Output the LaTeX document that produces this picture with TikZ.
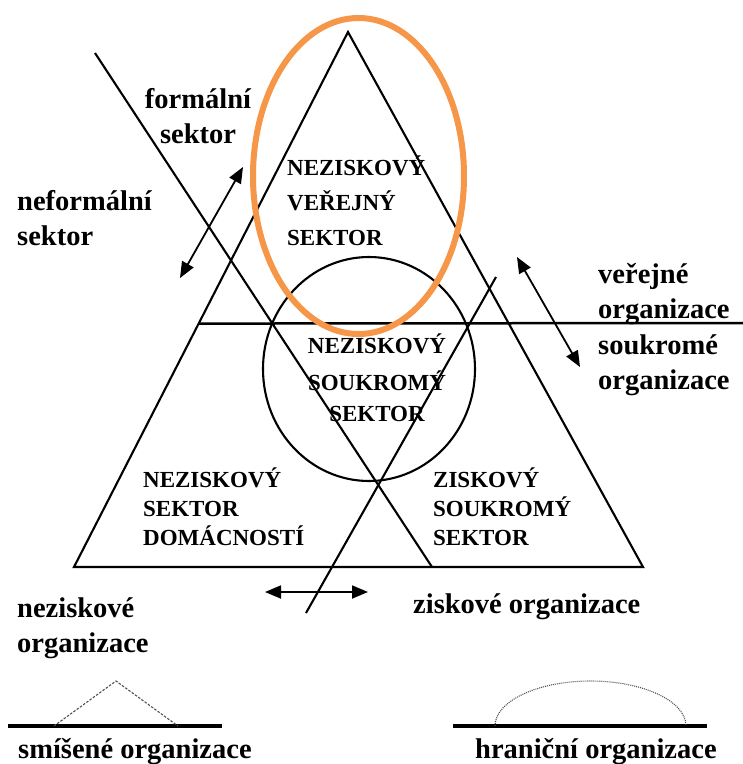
\documentclass[tikz,border=0pt]{standalone}
\usepackage{fontspec}
\setmainfont{Liberation Serif}
\definecolor{OkrajOranz}{RGB}{245, 150, 72}
\definecolor{CaraSeda}{RGB}{80, 80, 80}
\usetikzlibrary{arrows.meta, calc}
\tikzset{
  popis/.style={font=\fontsize{28.5}{35}\selectfont\bfseries, inner sep=0pt,
                align=left, anchor=base west},
  sektortxt/.style={font=\fontsize{23}{#1}\selectfont\bfseries, inner sep=0pt,
                    align=left, anchor=base west},
  sektortxt/.default=29,
  cara/.style={line width=2.1pt, black},
  dvojsip/.style={{Triangle[length=16pt,width=13pt]}-{Triangle[length=16pt,width=13pt]},
                  line width=1.8pt},
  zakladna/.style={line width=3.8pt, black},
}

\begin{document}
\begin{tikzpicture}[x=1pt, y=-1pt]
  \useasboundingbox (0,0) rectangle (743,764);

  % trojuhelnik a deleni
  \coordinate (vrchol) at (348,32);
  \coordinate (levy)   at (74,567);
  \coordinate (pravy)  at (643,567);
  \draw[cara, line join=miter] (vrchol) -- (levy) -- (pravy) -- cycle;

  \coordinate (hl) at ($(vrchol)!0.545!(levy)$);
  \coordinate (hp) at (743,323);
  \draw[cara, line width=2.5pt] (hl) -- (hp);

  \draw[cara] (369,369) ellipse[x radius=106pt, y radius=112pt];

  \coordinate (a1) at (95,53);
  \coordinate (a2) at (432,567);
  \coordinate (b1) at (306,613);
  \coordinate (b2) at (496,277);
  \draw[cara] (a1) -- (a2);
  \draw[cara] (b1) -- (b2);

  % sipky
  \coordinate (s1a) at (180,278);
  \coordinate (s1b) at (243,167);
  \coordinate (s2a) at (517,257);
  \coordinate (s2b) at (580,367);
  \coordinate (s3a) at (265,592);
  \coordinate (s3b) at (368,592);
  \draw[dvojsip] (s1a) -- (s1b);
  \draw[dvojsip] (s2a) -- (s2b);
  \draw[dvojsip] (s3a) -- (s3b);

  % sektory (base = posledni radek)
  \node[sektortxt=35] (verejny) at (287,245) {NEZISKOVÝ\\VEŘEJNÝ\\SEKTOR};
  \node[sektortxt=31, align=center, anchor=base] (soukromy) at (377,421)
       {NEZISKOVÝ\\[6pt]SOUKROMÝ\\SEKTOR};
  \node[sektortxt] (domacnosti) at (143,545) {NEZISKOVÝ\\SEKTOR\\DOMÁCNOSTÍ};
  \node[sektortxt] (ziskovy) at (433,545) {ZISKOVÝ\\SOUKROMÝ\\SEKTOR};

  % popisy
  \node[popis, align=center, anchor=base] (formalni) at (198,143) {formální\\sektor};
  \node[popis] (neformalni) at (17,245) {neformální\\sektor};
  \node[popis] (verejne) at (598,318) {veřejné\\organizace};
  \node[popis] (soukrome) at (598,389) {soukromé\\organizace};
  \node[popis] (neziskove) at (17,652) {neziskové\\organizace};
  \node[popis] (ziskove) at (413,613) {ziskové organizace};

  % smisene a hranicni
  \coordinate (sm1) at (8,726);
  \coordinate (sm2) at (222,726);
  \draw[zakladna] (sm1) -- (sm2);
  \draw[CaraSeda, line width=1.1pt, dash pattern=on 2.5pt off 1.5pt]
       (54,726) -- (116,681) -- (178,726);
  \node[popis] (smisene) at (18,758) {smíšené organizace};

  \coordinate (hr1) at (453,726);
  \coordinate (hr2) at (707,726);
  \draw[zakladna] (hr1) -- (hr2);
  \draw[CaraSeda, line width=1.1pt, dash pattern=on 1pt off 1pt]
       (495,726) arc[start angle=180, end angle=0, x radius=95.5pt, y radius=45pt];
  \node[popis] (hranicni) at (475,758) {hraniční organizace};

  % zvyrazneni
  \draw[OkrajOranz, line width=6pt] (358.5,176) ellipse[x radius=105.5pt, y radius=158pt];
\end{tikzpicture}
\end{document}
